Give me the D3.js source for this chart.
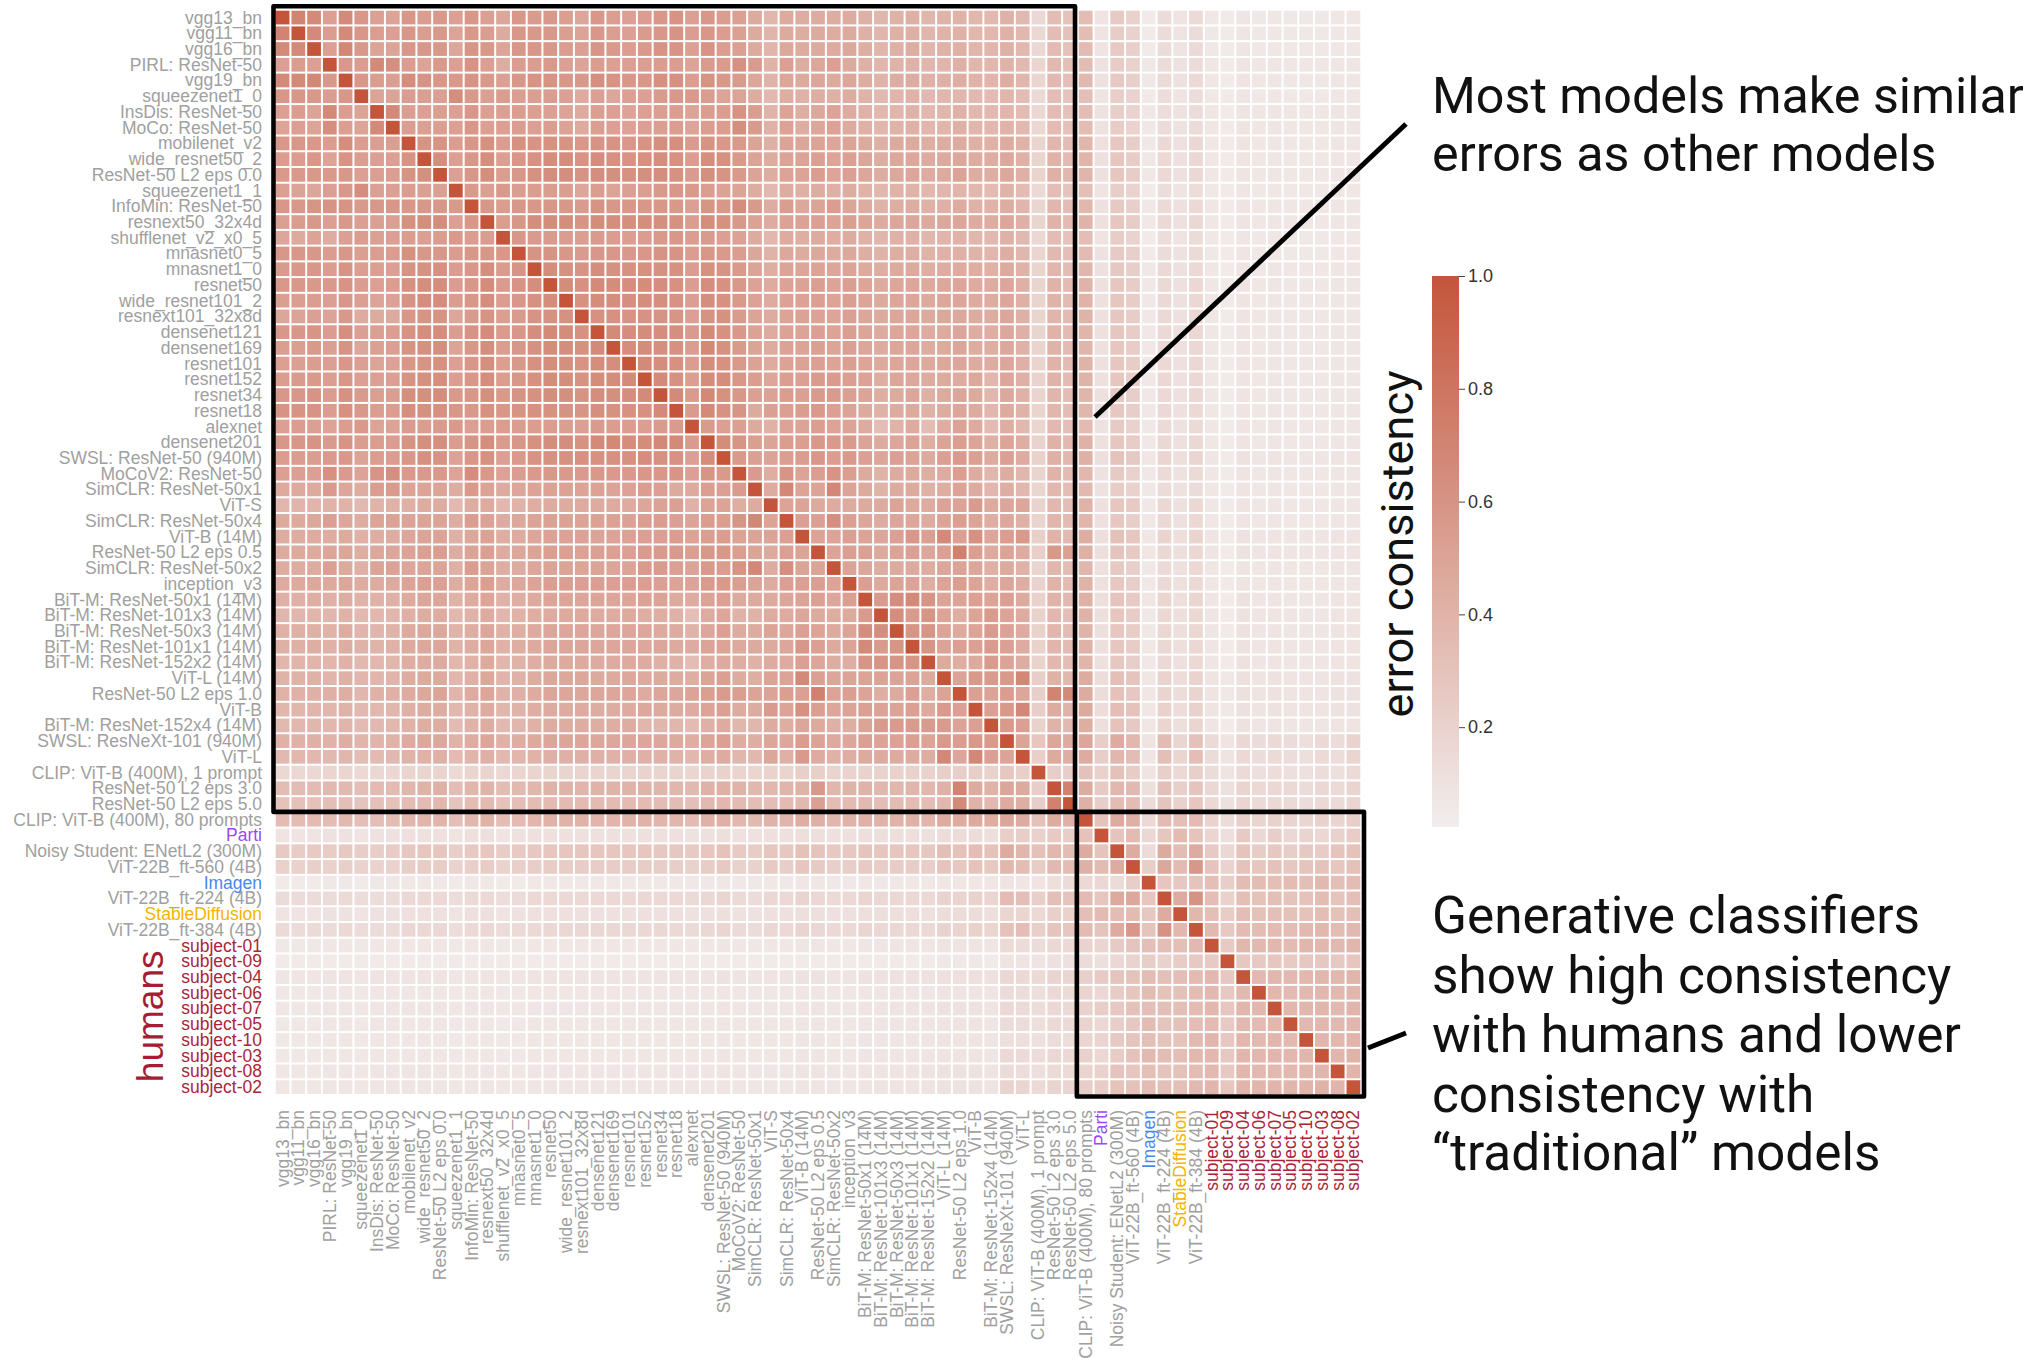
<!DOCTYPE html>
<html><head><meta charset="utf-8">
<script src="https://cdn.jsdelivr.net/npm/d3@7"></script>
<style>body{margin:0;background:#fff}svg{display:block}</style>
</head><body>
<svg id="chart" width="2032" height="1368"></svg>
<script>
// ---------------- DATA ----------------
const models = [
"vgg13_bn","vgg11_bn","vgg16_bn","PIRL: ResNet-50","vgg19_bn","squeezenet1_0","InsDis: ResNet-50","MoCo: ResNet-50",
"mobilenet_v2","wide_resnet50_2","ResNet-50 L2 eps 0.0","squeezenet1_1","InfoMin: ResNet-50","resnext50_32x4d",
"shufflenet_v2_x0_5","mnasnet0_5","mnasnet1_0","resnet50","wide_resnet101_2","resnext101_32x8d","densenet121",
"densenet169","resnet101","resnet152","resnet34","resnet18","alexnet","densenet201","SWSL: ResNet-50 (940M)",
"MoCoV2: ResNet-50","SimCLR: ResNet-50x1","ViT-S","SimCLR: ResNet-50x4","ViT-B (14M)","ResNet-50 L2 eps 0.5",
"SimCLR: ResNet-50x2","inception_v3","BiT-M: ResNet-50x1 (14M)","BiT-M: ResNet-101x3 (14M)","BiT-M: ResNet-50x3 (14M)",
"BiT-M: ResNet-101x1 (14M)","BiT-M: ResNet-152x2 (14M)","ViT-L (14M)","ResNet-50 L2 eps 1.0","ViT-B",
"BiT-M: ResNet-152x4 (14M)","SWSL: ResNeXt-101 (940M)","ViT-L","CLIP: ViT-B (400M), 1 prompt","ResNet-50 L2 eps 3.0",
"ResNet-50 L2 eps 5.0","CLIP: ViT-B (400M), 80 prompts","Parti","Noisy Student: ENetL2 (300M)","ViT-22B_ft-560 (4B)",
"Imagen","ViT-22B_ft-224 (4B)","StableDiffusion","ViT-22B_ft-384 (4B)","subject-01","subject-09","subject-04",
"subject-06","subject-07","subject-05","subject-10","subject-03","subject-08","subject-02"
];
const generativeNames = ["Parti","Imagen","StableDiffusion"];
const humanNames = models.filter(m => m.startsWith("subject-"));

// error consistency (x100), upper triangle: row i lists columns i..68 (matrix is symmetric)
const ecUpper = [
"100 70 66 52 66 58 52 50 58 54 56 52 58 52 48 58 55 57 53 48 58 53 52 54 58 60 52 58 54 52 46 38 46 44 45 44 45 42 38 41 42 38 40 40 38 36 41 36 17 34 30 34 9 25 21 5 14 9 15 6 5 8 6 7 6 6 6 7 7",
"100 66 54 66 58 54 52 58 54 56 50 57 54 46 58 57 57 53 50 58 53 52 55 58 60 54 58 54 52 46 39 46 44 46 44 46 42 38 42 42 39 40 41 38 37 41 37 17 34 31 34 9 24 21 5 14 9 14 6 5 8 6 7 6 6 6 7 7",
"100 52 68 57 50 50 58 58 57 48 59 57 50 58 58 57 54 52 59 56 54 56 60 60 52 60 54 52 46 39 47 45 46 45 47 43 39 42 43 39 41 42 39 38 42 37 17 35 31 35 9 25 22 5 14 9 15 6 5 8 6 7 6 6 6 7 7",
"100 57 54 66 63 54 50 56 52 60 52 44 54 54 56 52 50 54 52 52 53 54 54 50 55 55 62 55 40 52 44 48 52 46 42 38 40 41 38 39 42 38 37 40 36 18 36 32 34 10 24 21 6 14 10 14 7 5 9 7 8 7 7 7 8 8",
"100 58 54 53 64 60 58 57 60 57 52 58 60 60 58 57 63 60 58 58 62 62 54 60 57 55 48 40 48 46 48 46 48 44 40 44 44 41 42 43 40 39 43 38 18 36 32 36 10 26 22 6 15 10 16 7 5 9 7 8 7 7 7 8 8",
"100 50 50 54 53 52 64 56 52 54 53 53 54 52 45 52 48 52 52 55 57 56 54 50 50 44 36 43 41 43 42 44 40 36 39 40 36 38 38 36 35 39 34 16 33 29 32 9 23 20 5 13 9 13 6 5 8 6 7 6 6 6 7 7",
"100 66 53 52 53 52 58 52 52 54 53 52 50 46 53 52 50 52 53 54 50 54 54 60 54 40 50 43 47 50 45 41 37 39 40 37 38 41 37 36 39 35 17 35 31 33 10 23 20 6 13 10 14 7 5 9 7 8 7 7 7 8 8",
"100 53 52 53 52 58 52 52 54 52 54 51 46 53 52 51 52 53 54 50 54 54 63 55 41 51 44 48 51 46 42 38 40 41 38 39 42 38 37 40 36 17 35 31 34 10 24 20 6 14 10 14 7 5 9 7 8 7 7 7 8 8",
"100 60 60 54 58 62 54 62 60 62 60 58 60 60 58 60 63 63 55 60 58 56 50 42 50 48 50 48 50 46 42 46 46 43 44 45 42 41 45 40 19 38 34 38 11 27 23 6 16 11 17 7 5 9 7 8 7 7 7 8 8",
"100 63 52 58 64 52 58 61 64 64 60 64 62 60 62 63 62 54 63 62 56 50 44 50 50 52 49 52 48 44 47 47 45 46 47 44 43 47 41 19 40 35 39 11 28 24 6 16 11 17 7 5 9 7 8 7 7 7 8 8",
"100 52 58 64 54 58 62 64 64 60 64 63 62 63 64 62 55 63 60 56 50 44 50 50 54 49 52 48 44 47 48 45 46 50 44 43 47 42 19 42 37 39 11 28 24 6 16 11 17 7 5 9 7 8 7 7 7 8 8",
"100 56 52 56 54 54 54 54 48 54 50 52 53 56 58 56 54 51 50 44 36 44 42 44 42 44 40 37 40 40 37 38 39 37 35 40 35 16 33 29 32 9 23 20 5 13 9 13 6 5 8 6 7 6 6 6 7 7",
"100 58 54 58 58 58 58 55 60 58 58 58 58 57 52 59 58 64 56 44 54 47 50 54 49 45 40 43 44 41 42 45 41 40 44 39 18 38 34 37 11 26 22 6 15 11 16 7 5 9 7 8 7 7 7 8 8",
"100 54 58 64 65 64 60 65 64 63 64 63 62 54 64 62 57 51 45 51 51 52 50 53 49 45 48 48 46 47 48 45 44 48 42 19 40 35 40 11 28 24 6 16 11 17 7 5 9 7 8 7 7 7 8 8",
"100 58 55 55 54 53 55 54 53 54 56 58 54 55 52 51 45 37 45 43 45 43 45 41 38 41 41 38 39 40 38 36 41 36 17 34 30 33 9 24 20 5 13 9 14 6 5 8 6 7 6 6 6 7 7",
"100 60 60 58 55 58 58 57 58 60 60 54 58 56 54 48 40 47 45 47 45 47 43 40 43 43 40 41 42 40 38 43 38 18 36 32 35 10 25 22 5 14 10 15 6 5 8 6 7 6 6 6 7 7",
"100 64 62 60 64 62 62 62 62 62 54 62 60 56 50 43 50 48 50 48 50 46 43 46 46 43 44 45 43 41 46 40 19 38 34 38 11 27 23 6 16 11 16 7 5 9 7 8 7 7 7 8 8",
"100 65 62 66 65 64 65 64 62 54 64 62 57 51 45 51 51 53 50 53 49 45 48 48 46 47 48 45 44 48 42 19 40 35 40 11 28 24 6 16 11 17 7 5 9 7 8 7 7 7 8 8",
"100 62 65 64 63 64 63 61 53 64 62 56 51 45 51 51 52 50 53 49 46 48 48 46 47 48 45 44 48 42 19 40 35 40 11 28 24 6 16 11 17 7 5 9 7 8 7 7 7 8 8",
"100 62 62 60 61 60 59 52 61 62 55 50 45 50 51 51 49 52 48 46 48 48 46 47 47 45 44 48 42 19 39 35 40 11 28 24 6 16 11 17 7 5 9 7 8 7 7 7 8 8",
"100 66 64 65 64 63 55 66 62 57 51 45 51 50 52 50 53 49 45 48 48 45 46 48 44 43 47 42 19 40 35 39 11 28 24 6 16 11 17 7 5 9 7 8 7 7 7 8 8",
"100 64 65 63 62 54 67 62 56 50 45 51 50 52 49 52 48 45 48 48 45 46 48 44 43 47 41 19 40 35 39 11 28 24 6 16 11 17 7 5 9 7 8 7 7 7 8 8",
"100 66 64 62 54 64 62 56 51 45 51 51 52 50 53 49 46 48 48 46 47 48 45 44 48 42 19 40 35 40 11 28 24 6 16 11 17 7 5 9 7 8 7 7 7 8 8",
"100 66 62 53 65 64 58 54 48 53 52 55 55 53 51 43 48 47 45 46 45 47 38 48 42 20 40 35 40 11 28 24 6 17 11 17 7 5 9 7 8 7 7 7 8 8",
"100 66 55 67 62 58 52 51 54 52 55 55 52 50 43 46 48 42 46 48 46 38 47 41 19 39 34 39 11 27 23 6 16 11 17 7 5 9 7 8 7 7 7 8 8",
"100 55 66 61 59 46 52 52 54 56 52 50 46 41 45 46 41 45 48 45 38 46 40 19 38 34 38 11 27 23 6 16 11 16 7 5 9 7 8 7 7 7 8 8",
"100 55 52 52 46 41 50 50 53 50 50 45 33 40 45 34 43 50 45 35 43 37 18 36 32 35 10 25 21 6 15 10 15 7 5 9 7 8 7 7 7 8 8",
"100 65 59 53 50 54 53 57 56 55 50 45 48 50 43 50 53 50 42 49 43 20 41 36 41 11 28 24 6 17 11 17 7 5 9 7 8 7 7 7 8 8",
"100 56 52 50 53 54 58 54 56 52 48 52 50 46 52 55 52 45 52 45 21 42 37 42 12 30 26 7 18 12 18 8 5 10 8 9 8 8 8 9 9",
"100 55 43 59 50 53 60 53 46 40 45 46 43 45 53 45 38 44 38 19 40 35 37 10 25 21 6 15 10 15 7 5 9 7 8 7 7 7 8 8",
"100 45 68 50 50 68 50 46 40 45 46 41 43 50 45 38 43 37 18 37 33 36 10 24 21 6 14 10 14 7 5 9 7 8 7 7 7 8 8",
"100 50 50 46 45 45 46 45 50 46 45 50 50 55 45 48 48 20 37 33 40 11 28 25 6 17 11 17 7 5 9 7 8 7 7 7 8 8",
"100 52 52 63 52 48 45 48 48 45 50 53 50 43 47 42 19 39 35 39 11 27 23 6 16 11 16 7 5 9 7 8 7 7 7 8 8",
"100 50 50 52 50 48 52 58 52 66 52 62 48 54 56 22 40 36 43 12 31 28 7 19 12 19 8 5 10 8 9 8 8 8 9 9",
"100 50 53 52 46 50 52 48 52 72 53 46 50 45 22 57 52 42 12 29 25 7 17 12 17 8 5 10 8 9 8 8 8 9 9",
"100 50 48 44 46 46 44 48 50 48 42 46 41 19 38 34 38 11 26 22 6 15 11 16 7 5 9 7 8 7 7 7 8 8",
"100 53 46 50 50 43 50 53 50 43 48 43 20 40 35 40 11 27 23 6 16 11 16 7 5 9 7 8 7 7 7 8 8",
"100 55 64 66 59 50 50 52 50 52 46 21 40 36 41 12 29 25 7 18 12 18 8 5 10 8 9 8 8 8 9 9",
"100 64 55 59 50 43 50 55 50 45 21 37 33 40 12 28 24 6 17 12 17 8 5 10 8 9 8 8 8 9 9",
"100 59 59 50 46 50 55 51 45 21 38 34 40 12 28 24 6 17 12 17 8 5 10 8 9 8 8 8 9 9",
"100 59 50 52 52 55 52 45 21 39 35 41 12 28 24 6 17 12 17 8 5 10 8 9 8 8 8 9 9",
"100 46 43 46 55 50 44 20 37 33 39 11 27 23 6 16 11 16 8 5 10 8 9 8 8 8 9 9",
"100 50 56 55 56 68 23 41 37 45 13 32 29 7 20 13 20 9 6 11 9 10 9 9 9 10 10",
"100 52 50 54 48 23 70 66 45 13 31 27 7 19 13 19 9 6 11 9 10 9 9 9 10 10",
"100 52 57 68 23 45 40 46 13 33 30 7 21 13 21 9 6 11 9 10 9 9 9 10 10",
"100 56 52 21 40 36 43 12 30 26 7 18 12 18 8 5 10 8 9 8 8 8 9 9",
"100 50 28 48 45 48 23 45 37 9 35 18 31 15 9 17 14 16 14 12 16 14 20",
"100 22 46 43 45 23 38 34 8 32 18 33 14 9 16 13 15 13 12 15 13 18",
"100 23 23 31 21 31 24 9 22 16 22 14 9 15 12 13 12 11 13 12 15",
"100 72 45 25 37 36 12 32 22 29 17 11 19 16 17 16 14 17 15 19",
"100 42 23 34 34 14 29 21 28 16 11 18 15 16 15 13 16 15 18",
"100 30 45 42 16 35 32 35 20 14 22 19 21 19 18 21 19 23",
"100 29 35 17 28 35 29 18 12 25 17 23 17 19 17 21 24",
"100 45 14 46 34 45 25 17 29 24 27 23 26 24 29 30",
"100 23 47 35 58 29 20 30 28 31 27 29 30 28 31",
"100 28 27 29 32 23 34 34 32 34 32 36 32 34",
"100 45 61 33 21 32 30 32 29 30 34 29 32",
"100 37 32 24 33 31 32 31 30 33 31 32",
"100 36 26 35 34 35 33 36 37 34 36",
"100 25 37 36 37 35 38 37 36 38",
"100 27 26 28 25 27 27 26 28",
"100 36 38 36 37 38 37 39",
"100 37 35 36 37 36 38",
"100 37 38 38 36 39",
"100 36 37 36 38",
"100 38 37 39",
"100 38 40",
"100 39",
"100"
];

// boxes: index ranges of the highlighted blocks
const boxBlocks = [[0, 50], [51, 68]];
const colorDomain = [0.023, 1.0];
const colorTicks = [0.2, 0.4, 0.6, 0.8, 1.0];
const noteTop = ["Most models make similar", "errors as other models"];
const noteBottom = ["Generative classifiers", "show high consistency", "with humans and lower", "consistency with", "\u201Ctraditional\u201D models"];

// ---------------- BUILD ----------------
const n = models.length;
const M = Array.from({length: n}, () => new Array(n).fill(null));
ecUpper.forEach((row, i) => {
  const vals = row.trim().split(/\s+/).map(Number);
  if (vals.length !== n - i) console.error("row length mismatch", i, vals.length, n - i);
  vals.forEach((v, k) => { const j = i + k; M[i][j] = v / 100; M[j][i] = v / 100; });
});
const cells = [];
for (let i = 0; i < n; i++) for (let j = 0; j < n; j++) cells.push({r: i, c: j, v: M[i][j]});

const svg = d3.select("#chart");
const x = d3.scaleBand().domain(models).range([274.7, 1361.3]);
const y = d3.scaleBand().domain(models).range([9.7, 1095.0]);
const color = d3.scaleLinear().domain(colorDomain).range(["#f2eeee", "#c4553b"]).interpolate(d3.interpolateRgb).clamp(true);

const labelColor = m => generativeNames.includes(m)
  ? ({"Parti": "#9b47ff", "Imagen": "#4a87f2", "StableDiffusion": "#f4b400"})[m]
  : (humanNames.includes(m) ? "#ab2439" : "#a0a0a0");

const bw = x.bandwidth(), bh = y.bandwidth();
svg.append("g").selectAll("rect").data(cells).join("rect")
  .attr("x", d => x(models[d.c]) + 1)
  .attr("y", d => y(models[d.r]) + 1)
  .attr("width", bw - 2).attr("height", bh - 2)
  .attr("fill", d => color(d.v));

const labFont = "'Liberation Sans', Arial, sans-serif";
// y labels
svg.append("g").selectAll("text").data(models).join("text")
  .attr("x", 262).attr("y", m => y(m) + bh / 2)
  .attr("text-anchor", "end").attr("dominant-baseline", "central")
  .attr("font-family", labFont).attr("font-size", 17.5)
  .attr("fill", labelColor).text(m => m);
// x labels
svg.append("g").selectAll("text").data(models).join("text")
  .attr("transform", m => `translate(${x(m) + bw / 2},1110) rotate(-90)`)
  .attr("text-anchor", "end").attr("dominant-baseline", "central")
  .attr("font-family", labFont).attr("font-size", 17.5)
  .attr("fill", labelColor).text(m => m);

// humans label
svg.append("text")
  .attr("transform", `translate(163,${(y(humanNames[0]) + y(humanNames[humanNames.length-1]) + bh) / 2}) rotate(-90)`)
  .attr("text-anchor", "middle").attr("font-family", labFont).attr("font-size", 37)
  .attr("fill", "#a51d35").text("humans");

// boxes
const boxPath = (a, b, k) => {
  const x0 = x(models[a]) + (k === 0 ? -1.2 : -1.0);
  const x1 = x(models[b]) + bw + (k === 0 ? -2.8 : 2.7);
  const y0 = y(models[a]) + (k === 0 ? -3.4 : 0);
  const y1 = y(models[b]) + bh + (k === 0 ? 0 : 1.5);
  return `M${x0},${y0}H${x1}V${y1}H${x0}Z`;
};
svg.append("g").selectAll("path").data(boxBlocks).join("path")
  .attr("d", (d, k) => boxPath(d[0], d[1], k))
  .attr("fill", "none").attr("stroke", "#000").attr("stroke-width", 4.6)
  .attr("stroke-linejoin", "round");

// annotation lines
const noteLines = [[1095, 417, 1406, 124], [1368, 1048, 1406, 1033]];
svg.append("g").selectAll("line").data(noteLines).join("line")
  .attr("x1", d => d[0]).attr("y1", d => d[1]).attr("x2", d => d[2]).attr("y2", d => d[3])
  .attr("stroke", "#000").attr("stroke-width", 5);

// annotation texts
const noteFont = "Roboto, 'Noto Sans', sans-serif";
function fitSize(str, target) {
  const t = svg.append("text").attr("font-family", noteFont).attr("font-size", 50).text(str);
  const w = t.node().getComputedTextLength(); t.remove();
  return 50 * target / w;
}
const fs1 = fitSize("Most models make similar", 592);
const topY = [95, 153];
svg.append("g").selectAll("text").data(noteTop).join("text")
  .attr("x", 1432).attr("y", (d, i) => topY[i])
  .attr("dominant-baseline", "central").attr("font-family", noteFont)
  .attr("font-size", fs1).attr("fill", "#111").text(d => d);
const fs2 = fitSize("with humans and lower", 529);
const botY = [915, 975, 1034, 1094, 1152];
svg.append("g").selectAll("text").data(noteBottom).join("text")
  .attr("x", 1432).attr("y", (d, i) => botY[i])
  .attr("dominant-baseline", "central").attr("font-family", noteFont)
  .attr("font-size", fs2).attr("fill", "#111").text(d => d);

// colorbar
const cbX = 1432, cbW = 27, cbTop = 276, cbBot = 827;
const cy = d3.scaleLinear().domain(colorDomain).range([cbBot, cbTop]);
const defs = svg.append("defs");
const grad = defs.append("linearGradient").attr("id", "cbg").attr("x1", 0).attr("x2", 0).attr("y1", 1).attr("y2", 0);
d3.range(0, 11).forEach(k => {
  const v = colorDomain[0] + (colorDomain[1] - colorDomain[0]) * k / 10;
  grad.append("stop").attr("offset", k / 10).attr("stop-color", color(v));
});
svg.append("rect").attr("x", cbX).attr("y", cbTop).attr("width", cbW).attr("height", cbBot - cbTop).attr("fill", "url(#cbg)");
const cbAxis = svg.append("g").attr("transform", `translate(${cbX + cbW},0)`)
  .call(d3.axisRight(cy).tickValues(colorTicks).tickFormat(d3.format(".1f")).tickSize(6).tickPadding(3));
cbAxis.select(".domain").remove();
cbAxis.selectAll("line").attr("stroke", "#444");
cbAxis.selectAll("text").attr("font-family", labFont).attr("font-size", 18).attr("fill", "#333");

svg.append("text")
  .attr("transform", `translate(1397,544) rotate(-90)`)
  .attr("text-anchor", "middle").attr("dominant-baseline", "central")
  .attr("font-family", noteFont).attr("font-size", fs2 * 0.88).attr("fill", "#111")
  .text("error consistency");
</script>
</body></html>
